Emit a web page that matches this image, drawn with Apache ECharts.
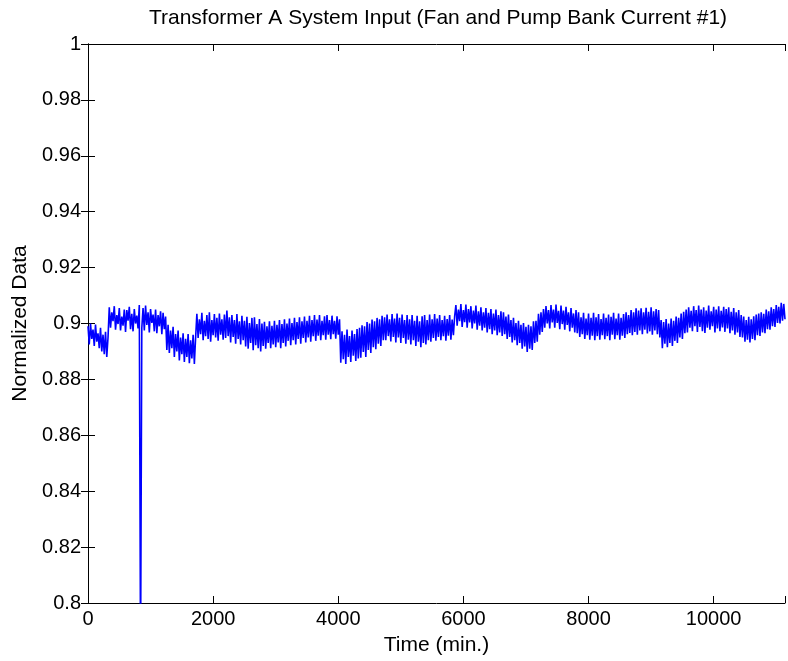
<!DOCTYPE html>
<html>
<head>
<meta charset="utf-8">
<script src="https://cdn.jsdelivr.net/npm/echarts@6/dist/echarts.min.js"></script>
<style>
html,body{margin:0;padding:0;background:#fff;}
#chart{width:788px;height:661px;}
</style>
</head>
<body>
<div id="chart"></div>
<script>
// Sampling interval of the recorded signal (minutes per sample)
var sampleStepMin = 20;

// Normalized fan & pump bank current #1, one value per sample
var currentSegA = [0.8990,0.8925,0.9000,0.8945,0.8978,0.8920,0.8996,0.8935,0.8965,0.8912,0.8985,0.8900,0.8960,0.8890,0.8970,0.8880,0.8950];
var currentSegB = [0.9058,0.8985,0.9040,0.9008,0.9062,0.8978,0.9030,0.8998,0.9055,0.8975,0.9025,0.8992,0.9050,0.8970,0.9048,0.9010,
                   0.9060,0.8980,0.9035,0.8972,0.9052,0.9000,0.9028,0.8982,0.9066,
                   0.7800,
                   0.8985,0.9055,0.8975,0.9064,0.8995,0.9040,0.8968,0.9052,0.9002,0.9032,0.8972,0.9050,0.8965,0.9030,0.8990,0.9044,
                   0.8962,0.9038,0.8980,0.9025];
var currentSegC = [0.8905,0.8995,0.8895,0.8975,0.8912,0.8988,0.8880,0.8962,0.8900,0.8975,0.8868,0.8950,0.8890,0.8965,0.8862,0.8945,
                   0.8880,0.8962,0.8858,0.8940,0.8875,0.8960,0.8855,0.8950];
var currentSegD = [0.9035,0.8948,0.9015,0.8962,0.9038,0.8940,0.9010,0.8955,0.9030,0.8945,
                   0.9040,0.8935,0.9012,0.8958,0.9034,0.8950,0.9020,0.8938,0.9036,0.8960,
                   0.9015,0.8942,0.9032,0.8948,0.9046,0.8955,0.9022,0.8932,0.9030,0.8952,
                   0.9012,0.8928,0.9034,0.8945,0.9008,0.8925,0.9028,0.8940,0.9010,0.8918,
                   0.9024,0.8910,0.9002,0.8930,0.9020,0.8904,0.9022,0.8922,0.8998,0.8912,
                   0.9016,0.8900,0.9000,0.8920];
var currentSegE = [0.9006,0.8910,0.8990,0.8930,0.9008,0.8912,0.8992,0.8925,0.9010,0.8915,
                   0.8995,0.8932,0.9012,0.8912,0.8998,0.8930,0.9015,0.8918,0.9000,0.8938,
                   0.9018,0.8922,0.9002,0.8940,0.9020,0.8925,0.9005,0.8945,0.9022,0.8928,
                   0.9008,0.8948,0.9025,0.8932,0.9010,0.8950,0.9028,0.8935,0.9012,0.8955,
                   0.9030,0.8938,0.9014,0.8956,0.9030,0.8940,0.9010,0.8958,0.9026,0.8942,
                   0.9030,0.8960,0.9012,0.8944,0.9028,0.8962,0.9010,0.8946,0.9026,0.8960,
                   0.9015];
var currentSegF = [0.8860,0.8972,0.8872,0.8960,0.8855,0.8978,0.8880,0.8955,0.8862,0.8975,0.8885,0.8962,0.8866,0.8980,0.8875];
var currentSegG = [0.8985,0.8878,0.8994,0.8898,0.8990,0.8880,0.9005,0.8905,0.9000,0.8895,0.9014,0.8915,0.9008,0.8908,0.9020,0.8928,
                   0.9015,0.8920,0.9028,0.8940,0.9022];
var currentSegH = [0.8940,0.9032,0.8955,0.9015,0.8936,0.9034,0.8952,0.9018,0.8932,0.9036,
                   0.8950,0.9020,0.8930,0.9032,0.8948,0.9012,0.8928,0.9030,0.8942,0.9015,
                   0.8925,0.9030,0.8940,0.9010,0.8920,0.9028,0.8935,0.9008,0.8915,0.9026,
                   0.8930,0.9030,0.8925,0.9012,0.8940,0.9032,0.8935,0.9015,0.8948,0.9034,
                   0.8938,0.9018,0.8952,0.9030,0.8940,0.9012,0.8955,0.9028,0.8938,0.9016,
                   0.8956,0.9030,0.8942,0.9014,0.8958,0.9026];
var currentSegI = [0.9066,0.8992,0.9050,0.9008,0.9070,0.8988,0.9048,0.9005,0.9068,0.8985,
                   0.9052,0.9004,0.9062,0.8982,0.9046,0.9000,0.9064,0.8978,0.9044,0.8992,
                   0.9058,0.8975,0.9040,0.8985,0.9055,0.8968,0.9038,0.8980,0.9052,0.8962,
                   0.9036,0.8975,0.9050,0.8958,0.9030,0.8968,0.9044];
var currentSegJ = [0.8955,0.9040,0.8962,0.9025,0.8945,0.9032,0.8952,0.9012,0.8932,0.9020,
                   0.8940,0.9002,0.8922,0.9010,0.8930,0.8995,0.8910,0.9002,0.8918,0.8988,
                   0.8898,0.8995,0.8910,0.8990,0.8905,0.9008,0.8930,0.9010,0.8935,0.9035,
                   0.8960,0.9040,0.8970,0.9052];
var currentSegK = [0.8985,0.9062,0.9000,0.9048,0.8982,0.9066,0.9004,0.9050,0.8985,0.9068,
                   0.9002,0.9045,0.8980,0.9064,0.8998,0.9046,0.8978,0.9060,0.8995,0.9040,
                   0.8972,0.9055,0.8985,0.9036,0.8968,0.9048,0.8965];
var currentSegL = [0.9040,0.8952,0.9022,0.8962,0.9038,0.8945,0.9018,0.8958,0.9036,0.8942,
                   0.9020,0.8956,0.9038,0.8940,0.9022,0.8955,0.9034,0.8942,0.9016,0.8958,
                   0.9036,0.8944,0.9020,0.8955,0.9032,0.8940,0.9024,0.8960,0.9038,0.8944,
                   0.9018,0.8958,0.9036,0.8942,0.9020,0.8956,0.9034,0.8948,0.9040,0.8962,
                   0.9030,0.8966,0.9048,0.8958,0.9040,0.8970,0.9054,0.8960,0.9046];
var currentSegM = [0.8975,0.9054,0.8962,0.9040,0.8978,0.9056,0.8964,0.9042,0.8972,0.9058,0.8960,0.9044,0.8975,0.9052,0.8962,0.9048,0.8950];
var currentSegN = [0.9012,0.8912,0.9005,0.8928,0.9016,0.8915,0.9000,0.8930,0.9018,0.8920,0.9010,0.8938,0.9025,0.8930,0.9020,0.8950,
                   0.9036,0.8945,0.9042,0.8965];
var currentSegO = [0.9050,0.8968,0.9058,0.8985,0.9045,0.8972,0.9062,0.8990,0.9048,0.8970,
                   0.9064,0.8988,0.9050,0.8972,0.9058,0.8966,0.9046,0.8985,0.9064,0.8978,
                   0.9044,0.8990,0.9060,0.8968,0.9050,0.8982,0.9062,0.8972,0.9045,0.8986,
                   0.9060,0.8970,0.9052,0.8982,0.9058,0.8965,0.9042,0.8975,0.9055,0.8960,
                   0.9040,0.8968,0.9048,0.8952,0.9030];
var currentSegP = [0.8950,0.9025,0.8935,0.9012,0.8942,0.9024,0.8932,0.9015,0.8945,0.9026,0.8940,0.9032,0.8958,0.9036];
var currentSegQ = [0.8955,0.9040,0.8968,0.9035,0.8965,0.9050,0.8980,0.9044,0.8978,0.9058,0.8990,0.9052,0.8988,0.9066,0.9002,0.9060,
                   0.9000,0.9074,0.9010,0.9070,0.9015];

var currentValues = [].concat(currentSegA, currentSegB, currentSegC, currentSegD, currentSegE, currentSegF,
  currentSegG, currentSegH, currentSegI, currentSegJ, currentSegK, currentSegL, currentSegM, currentSegN,
  currentSegO, currentSegP, currentSegQ);

// Axis ranges / tick labels
var xTickLabels = [0, 2000, 4000, 6000, 8000, 10000];
var yTickLabels = [0.8, 0.82, 0.84, 0.86, 0.88, 0.9, 0.92, 0.94, 0.96, 0.98, 1];
var xMax = 11140;

var seriesData = currentValues.map(function (v, i) { return [i * sampleStepMin, v]; });

var FONT = "'Liberation Sans', Arial, Helvetica, sans-serif";
var chart = echarts.init(document.getElementById('chart'), null, {renderer: 'canvas'});

function xFmt(v) { return xTickLabels.indexOf(v) >= 0 ? String(v) : ''; }

var axisLineStyle = {show: true, lineStyle: {color: '#000', width: 1}};
var tickStyle = {show: true, inside: true, length: 7, lineStyle: {color: '#000', width: 1}};

chart.setOption({
  animation: false,
  backgroundColor: '#fff',
  title: {
    text: 'Transformer A System Input (Fan and Pump Bank Current #1)',
    left: 438, top: 8, textAlign: 'center', padding: 0,
    textStyle: {fontFamily: FONT, fontSize: 21, fontWeight: 'normal', color: '#000'}
  },
  grid: {left: 88, top: 44, width: 699, height: 559, containLabel: false},
  xAxis: [{
    type: 'value', min: 0, max: xMax, interval: 2000, position: 'bottom',
    name: 'Time (min.)', nameLocation: 'middle', nameGap: 32,
    nameTextStyle: {fontFamily: FONT, fontSize: 21, color: '#000'},
    axisLine: axisLineStyle, axisTick: tickStyle, splitLine: {show: false},
    axisLabel: {formatter: xFmt, margin: 6, fontFamily: FONT, fontSize: 20, color: '#000'}
  }, {
    type: 'value', min: 0, max: xMax, interval: 2000, position: 'top',
    axisLine: axisLineStyle, axisTick: tickStyle, splitLine: {show: false},
    axisLabel: {show: false}
  }],
  yAxis: [{
    type: 'value', min: 0.8, max: 1, interval: 0.02, position: 'left',
    name: 'Normalized Data', nameLocation: 'middle', nameGap: 53,
    nameTextStyle: {fontFamily: FONT, fontSize: 21, color: '#000'},
    axisLine: axisLineStyle, axisTick: tickStyle, splitLine: {show: false},
    axisLabel: {margin: 7, fontFamily: FONT, fontSize: 20, color: '#000',
      formatter: function (v) { var r = Math.round(v * 100) / 100; return yTickLabels.indexOf(r) >= 0 ? String(r) : ''; }}
  }, {
    type: 'value', min: 0.8, max: 1, interval: 0.02, position: 'right',
    axisLine: axisLineStyle, axisTick: tickStyle, splitLine: {show: false},
    axisLabel: {show: false}
  }],
  series: [{
    type: 'line', xAxisIndex: 0, yAxisIndex: 0,
    data: seriesData, showSymbol: false, symbol: 'none', clip: true,
    lineStyle: {color: '#0000ff', width: 1.6}, itemStyle: {color: '#0000ff'}
  }]
});
</script>
</body>
</html>
